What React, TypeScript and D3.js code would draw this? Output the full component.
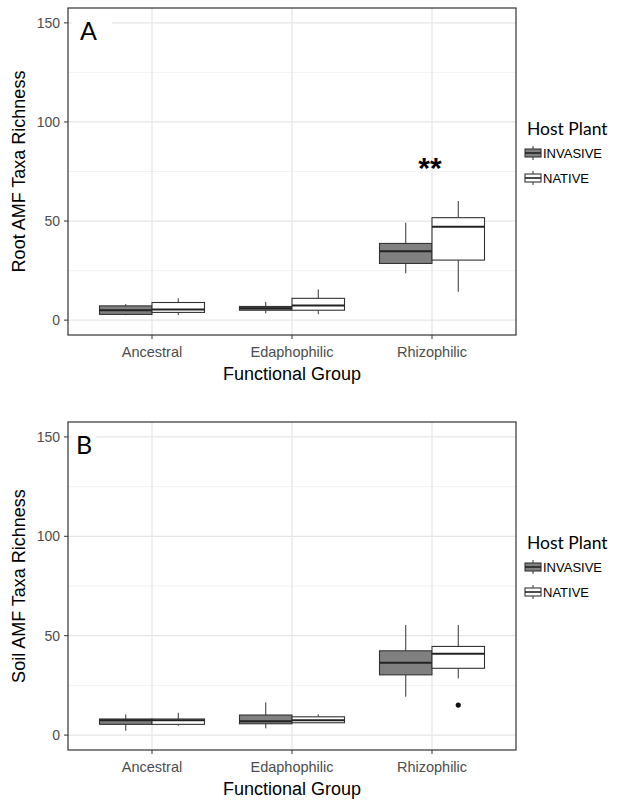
import React from "react";
import * as d3 from "d3";

// categories and groups
const groups = ["Ancestral", "Edaphophilic", "Rhizophilic"];
const hosts = ["INVASIVE", "NATIVE"];
const yTicks = [0, 50, 100, 150];
const yMinor = [25, 75, 125];

// box stats per group: [lower whisker, q1, median, q3, upper whisker]
const rootInvasive = [
  [2.5, 2.9, 5.0, 7.2, 8.1],
  [3.4, 5.0, 6.0, 6.9, 9.2],
  [23.6, 28.6, 34.8, 38.7, 49.2],
];
const rootNative = [
  [2.5, 3.9, 5.4, 8.9, 11.0],
  [3.0, 5.0, 7.4, 11.0, 15.5],
  [14.3, 30.3, 47.1, 51.7, 60.1],
];
const soilInvasive = [
  [2.2, 5.4, 7.5, 8.1, 10.4],
  [3.4, 5.7, 7.0, 10.1, 16.5],
  [19.3, 30.3, 36.4, 42.4, 55.4],
];
const soilNative = [
  [4.7, 5.4, 7.5, 8.1, 11.2],
  [6.2, 6.2, 7.5, 9.2, 10.4],
  [28.5, 33.6, 40.9, 44.6, 55.4],
];
// outliers: [group, host, value]
const soilOutliers: [string, string, number][] = [["Rhizophilic", "NATIVE", 15.1]];

const fills: Record<string, string> = { INVASIVE: "#808080", NATIVE: "#ffffff" };
const sans = "'Liberation Sans', Arial, sans-serif";
const calibri = "Lato, 'Open Sans', sans-serif";

type PanelProps = {
  top: number;
  bottom: number;
  label: string;
  yTitle: string;
  invasive: number[][];
  native: number[][];
  outliers: [string, string, number][];
  stars?: string;
};

const left = 68;
const right = 516;

function Panel({ top, bottom, label, yTitle, invasive, native, outliers, stars }: PanelProps) {
  const y = d3.scaleLinear().domain([-7.5, 157.5]).range([bottom, top]);
  const x = d3.scalePoint<string>().domain(groups).range([left, right]).padding(0.6);
  const step = x.step();
  const inner = d3.scaleBand<string>().domain(hosts).range([-0.375 * step, 0.375 * step]);
  const bw = inner.bandwidth();

  const boxes: { g: string; h: string; s: number[] }[] = [];
  groups.forEach((g, i) => {
    boxes.push({ g, h: "INVASIVE", s: invasive[i] });
    boxes.push({ g, h: "NATIVE", s: native[i] });
  });

  const legTitleY = top + 127;

  return (
    <g>
      <rect x={left} y={top} width={right - left} height={bottom - top} fill="#fff" />
      {yMinor.map((t) => (
        <line key={"mi" + t} x1={left} x2={right} y1={y(t)} y2={y(t)} stroke="#f2f2f2" strokeWidth={1} />
      ))}
      {yTicks.map((t) => (
        <line key={"ma" + t} x1={left} x2={right} y1={y(t)} y2={y(t)} stroke="#e6e6e6" strokeWidth={1.3} />
      ))}
      {groups.map((g) => (
        <line key={"vx" + g} x1={x(g)} x2={x(g)} y1={top} y2={bottom} stroke="#e6e6e6" strokeWidth={1.3} />
      ))}
      {boxes.map((b) => {
        const cx = (x(b.g) as number) + (inner(b.h) as number) + bw / 2;
        const x0 = cx - bw / 2;
        const [lo, q1, med, q3, hi] = b.s;
        return (
          <g key={b.g + b.h}>
            <line x1={cx} x2={cx} y1={y(hi)} y2={y(q3)} stroke="#333" strokeWidth={1} />
            <line x1={cx} x2={cx} y1={y(q1)} y2={y(lo)} stroke="#333" strokeWidth={1} />
            <rect x={x0} y={y(q3)} width={bw} height={Math.max(y(q1) - y(q3), 0.5)} fill={fills[b.h]} stroke="#333" strokeWidth={1.1} />
            <line x1={x0} x2={x0 + bw} y1={y(med)} y2={y(med)} stroke="#222" strokeWidth={2} />
          </g>
        );
      })}
      {outliers.map(([g, h, v], i) => {
        const cx = (x(g) as number) + (inner(h) as number) + bw / 2;
        return <circle key={"o" + i} cx={cx} cy={y(v)} r={2.6} fill="#111" />;
      })}
      <rect x={left} y={top} width={right - left} height={bottom - top} fill="none" stroke="#333" strokeWidth={1.2} />
      {/* panel letter with white background */}
      <rect x={left + 4} y={top + 6} width={label === "A" ? 40 : 24} height={26} fill="#fff" />
      <text x={left + (label === "A" ? 12 : 8)} y={top + 32} fontFamily={calibri} fontSize={25} fill="#000">
        {label}
      </text>
      {stars && (
        <text x={(x("Rhizophilic") as number) - 2} y={top + 170} textAnchor="middle" fontFamily={sans} fontWeight="bold" fontSize={30} fill="#000">
          {stars}
        </text>
      )}
      {/* y axis */}
      {yTicks.map((t) => (
        <g key={"yt" + t}>
          <line x1={left - 4} x2={left} y1={y(t)} y2={y(t)} stroke="#333" strokeWidth={1} />
          <text x={left - 8} y={y(t)} dy="0.36em" textAnchor="end" fontFamily={sans} fontSize={14} fill="#4d4d4d">
            {t}
          </text>
        </g>
      ))}
      <text
        transform={`translate(25,${(top + bottom) / 2}) rotate(-90)`}
        textAnchor="middle"
        fontFamily={sans}
        fontSize={18}
        fill="#000"
      >
        {yTitle}
      </text>
      {/* x axis */}
      {groups.map((g) => (
        <g key={"xt" + g}>
          <line x1={x(g)} x2={x(g)} y1={bottom} y2={bottom + 4} stroke="#333" strokeWidth={1} />
          <text x={x(g)} y={bottom + 22} textAnchor="middle" fontFamily={sans} fontSize={14.5} fill="#4d4d4d">
            {g}
          </text>
        </g>
      ))}
      <text x={(left + right) / 2} y={bottom + 45} textAnchor="middle" fontFamily={sans} fontSize={18} fill="#000">
        Functional Group
      </text>
      {/* legend */}
      <text x={527} y={legTitleY} fontFamily={calibri} fontSize={17.5} fill="#000">
        Host Plant
      </text>
      {hosts.map((h, i) => {
        const cy = legTitleY + 18 + i * 25;
        return (
          <g key={"lg" + h}>
            <line x1={533} x2={533} y1={cy - 7} y2={cy + 7} stroke="#333" strokeWidth={1} />
            <rect x={525} y={cy - 4} width={16} height={8} fill={fills[h]} stroke="#333" strokeWidth={1.1} />
            <line x1={525} x2={541} y1={cy} y2={cy} stroke="#222" strokeWidth={1.6} />
            <text x={543} y={cy} dy="0.36em" fontFamily={sans} fontSize={13} fill="#000">
              {h}
            </text>
          </g>
        );
      })}
    </g>
  );
}

export default function App() {
  return (
    <svg width={617} height={800} style={{ position: "absolute", left: 0, top: 0, background: "#fff" }}>
      <rect width={617} height={800} fill="#fff" />
      <Panel
        top={8}
        bottom={335}
        label="A"
        yTitle="Root AMF Taxa Richness"
        invasive={rootInvasive}
        native={rootNative}
        outliers={[]}
        stars="**"
      />
      <Panel
        top={422}
        bottom={750}
        label="B"
        yTitle="Soil AMF Taxa Richness"
        invasive={soilInvasive}
        native={soilNative}
        outliers={soilOutliers}
      />
    </svg>
  );
}
